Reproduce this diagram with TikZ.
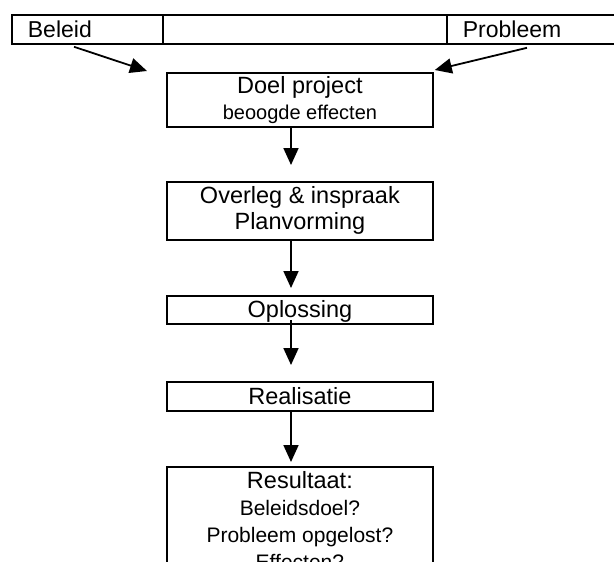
\documentclass[tikz,border=0pt]{standalone}
\usepackage{fontspec}
\setmainfont{Liberation Sans}
\usetikzlibrary{arrows.meta, positioning, calc}

\begin{document}
\begin{tikzpicture}[
    x=1pt, y=-1pt,
    cell/.style={
        rectangle,
        draw=black,
        line width=1.8pt,
        anchor=north west,
        minimum height=29pt,
        inner xsep=16pt,
        inner ysep=0pt,
        align=left,
        font=\fontsize{23}{27}\selectfont
    },
    stepbox/.style={
        rectangle,
        draw=black,
        line width=1.8pt,
        anchor=north west,
        minimum width=266pt,
        inner sep=0pt,
        align=center,
        font=\fontsize{23.5}{26}\selectfont
    },
    arrow/.style={
        -{Triangle[length=17pt, width=15pt]},
        line width=1.8pt,
        draw=black
    }
]

\useasboundingbox (0,0) rectangle (614,562);
\clip (0,0) rectangle (614,562);

% Top row
\node[cell, text width=119pt] (beleid) at (11,14) {Beleid};
\node[cell, text width=252pt] (middle) at (162,14) {};
\node[cell, text width=168pt] (probleem) at (446,14) {Probleem};

% Steps
\node[stepbox, minimum height=54pt] (doel) at (166,72) {
Doel project\\
{\fontsize{20}{24}\selectfont beoogde effecten}
};

\node[stepbox, minimum height=58pt] (overleg) at (166,181) {
Overleg \& inspraak\\
Planvorming
};

\node[stepbox, minimum height=28pt, text depth=2pt] (oplossing) at (166,295) {Oplossing};

\node[stepbox, minimum height=29pt] (realisatie) at (166,381) {Realisatie};

\node[stepbox, inner ysep=5pt, font=\fontsize{21}{27}\selectfont] (resultaat) at (166,466) {
{\fontsize{23.5}{27}\selectfont Resultaat:}\\
Beleidsdoel?\\
Probleem opgelost?\\
Effecten?
};

\coordinate (spine) at (291,0);

% Arrows
\draw[arrow] ([shift={(63,2)}]beleid.south west) -- ([shift={(-19,-1)}]doel.north west);
\draw[arrow] ([shift={(81,3)}]probleem.south west) -- ([shift={(1,-2)}]doel.north east);

\draw[arrow, shorten >=16pt] (doel.south -| spine) -- (overleg.north -| spine);
\draw[arrow, shorten >=7pt] (overleg.south -| spine) -- (oplossing.north -| spine);
\draw[arrow, shorten <=-5pt, shorten >=16pt] (oplossing.south -| spine) -- (realisatie.north -| spine);
\draw[arrow, shorten >=4pt] (realisatie.south -| spine) -- (resultaat.north -| spine);

\end{tikzpicture}
\end{document}
